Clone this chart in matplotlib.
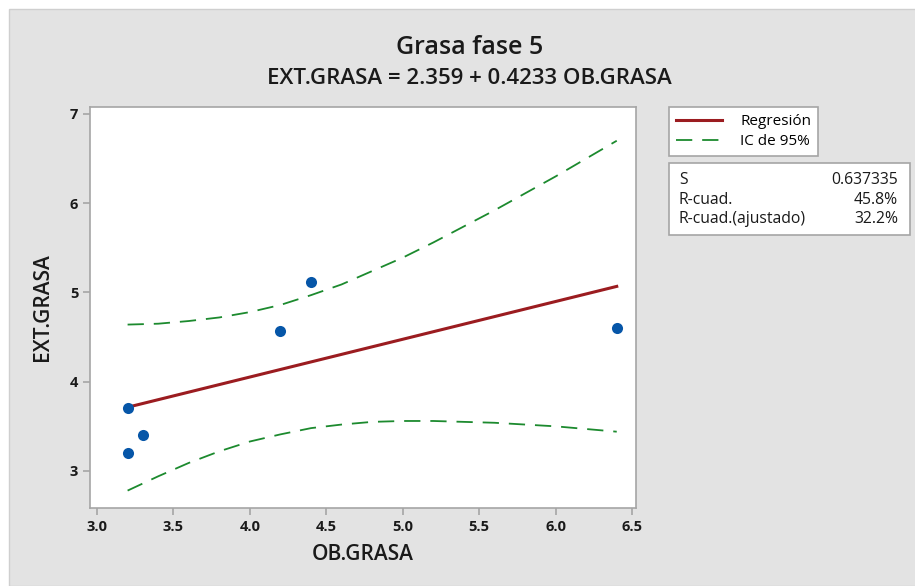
import numpy as np
import matplotlib.pyplot as plt
from matplotlib.patches import Rectangle

plt.rcParams['font.family'] = ['Open Sans', 'DejaVu Sans']

# data
ob_grasa = [3.2, 3.2, 3.3, 4.2, 4.4, 6.4]
ext_grasa = [3.7, 3.2, 3.4, 4.57, 5.12, 4.6]

fit_x = [3.2, 6.4]
fit_y = [3.714, 5.068]

ci_x = [3.2, 3.4, 3.6, 3.8, 4.0, 4.2, 4.4, 4.6, 4.8, 5.0, 5.2, 5.4, 5.6, 5.8, 6.0, 6.2, 6.4]
ci_upper = [4.64, 4.65, 4.68, 4.72, 4.78, 4.86, 4.97, 5.09, 5.24, 5.39, 5.56, 5.74, 5.92, 6.11, 6.30, 6.50, 6.70]
ci_lower = [2.78, 2.94, 3.09, 3.22, 3.33, 3.41, 3.48, 3.52, 3.55, 3.56, 3.56, 3.55, 3.54, 3.52, 3.50, 3.47, 3.44]

stat_names = ["S", "R-cuad.", "R-cuad.(ajustado)"]
stat_values = ["0.637335", "45.8%", "32.2%"]

W, H = 915, 586
fig = plt.figure(figsize=(W / 100, H / 100), dpi=100, facecolor="white")

# grey panel with thin border (white strip top/left as in the screenshot)
fig.patches.append(Rectangle((9 / W, 0), 1, 1 - 9 / H, transform=fig.transFigure,
                             facecolor="#e3e3e3", edgecolor="#cfcfcf", lw=1, zorder=-10))

ax = fig.add_axes([90 / W, 1 - 508 / H, (636 - 90) / W, (508 - 107) / H])
ax.set_facecolor("white")

dash = (0, (9, 5.5))
reg_line, = ax.plot(fit_x, fit_y, color="#9b1c20", lw=2.2, label="Regresión", zorder=3)
ci_line, = ax.plot(ci_x, ci_upper, color="#1c8a2e", lw=1.3, ls=dash, label="IC de 95%")
ax.plot(ci_x, ci_lower, color="#1c8a2e", lw=1.3, ls=dash)
ax.scatter(ob_grasa, ext_grasa, s=64, color="#0656a8", zorder=4, linewidths=0)

ax.set_xlim(2.954, 6.526)
ax.set_ylim(2.585, 7.078)
ax.set_xticks([3.0, 3.5, 4.0, 4.5, 5.0, 5.5, 6.0, 6.5])
ax.set_yticks([3, 4, 5, 6, 7])
ax.xaxis.set_major_formatter(plt.FormatStrFormatter("%.1f"))
for s in ax.spines.values():
    s.set_color("#a5a5a5")
    s.set_linewidth(1.2)
ax.tick_params(colors="#a5a5a5", length=5, width=1.2, labelcolor="#1a1a1a",
               labelsize=10.5)
for lab in ax.get_xticklabels() + ax.get_yticklabels():
    lab.set_fontweight("bold")

ax.set_xlabel("OB.GRASA", fontsize=15, fontweight="semibold", color="#1a1a1a", labelpad=7)
ax.set_ylabel("EXT.GRASA", fontsize=15, fontweight="semibold", color="#1a1a1a", labelpad=12)

fig.text(470 / W, 1 - 47 / H, "Grasa fase 5", ha="center", va="center",
         fontsize=18, fontweight="semibold", color="#1a1a1a")
fig.text(469 / W, 1 - 78 / H, "EXT.GRASA = 2.359 + 0.4233 OB.GRASA", ha="center",
         va="center", fontsize=16, fontweight="semibold", color="#1a1a1a")

leg = fig.legend(handles=[reg_line, ci_line], loc="upper left",
                 bbox_to_anchor=(669 / W, 1 - 107 / H), fancybox=False,
                 edgecolor="#a5a5a5", framealpha=1, fontsize=11,
                 handlelength=3.0, borderpad=0.45, labelspacing=0.35,
                 handletextpad=1.2, borderaxespad=0)
leg.get_frame().set_linewidth(1.2)

# statistics box
fig.patches.append(Rectangle((669 / W, 1 - 235 / H), (910 - 669) / W, (235 - 163) / H,
                             transform=fig.transFigure, facecolor="white",
                             edgecolor="#a5a5a5", lw=1.2))
for i, (name, val) in enumerate(zip(stat_names, stat_values)):
    y = 1 - (180 + i * 19.5) / H
    fig.text(679 / W, y, name, ha="left", va="center", fontsize=11.3, color="#1a1a1a")
    fig.text(898 / W, y, val, ha="right", va="center", fontsize=11.3, color="#1a1a1a")

fig.savefig("out.png", dpi=100, facecolor=fig.get_facecolor())
